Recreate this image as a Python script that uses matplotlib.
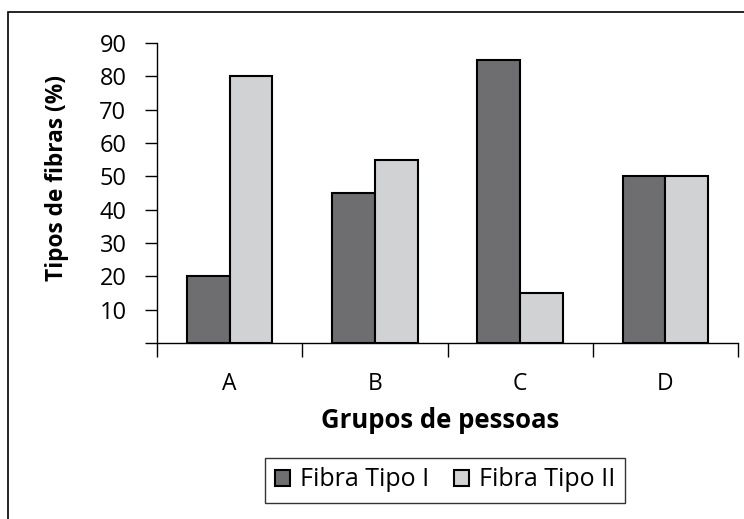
import numpy as np
import matplotlib
matplotlib.use("Agg")
import matplotlib.pyplot as plt
from matplotlib.patches import Rectangle

grupos = ["A", "B", "C", "D"]
tipo_1 = [20, 45, 85, 50]
tipo_2 = [80, 55, 15, 50]
series_names = ["Fibra Tipo I", "Fibra Tipo II"]
yticks = [0, 10, 20, 30, 40, 50, 60, 70, 80, 90]

plt.rcParams['font.family'] = ['Open Sans', 'DejaVu Sans']

W, H = 744, 519
fig = plt.figure(figsize=(W / 100, H / 100), dpi=100)
fig.patch.set_facecolor("white")

# outer frame (right/bottom edges lie outside the picture)
fig.patches.append(Rectangle((8 / W, -0.1), 1.2, 1 - 12 / H + 0.1,
                             transform=fig.transFigure, fill=False,
                             edgecolor="black", linewidth=1.2))

ax = fig.add_axes([157 / W, (H - 343) / H, 581 / W, 300 / H])

x = np.arange(len(grupos))
w = 0.295
ax.bar(x - w / 2, tipo_1, w, color="#6e6e70", edgecolor="black",
       linewidth=1.5, label=series_names[0])
ax.bar(x + w / 2, tipo_2, w, color="#d1d2d4", edgecolor="black",
       linewidth=1.5, label=series_names[1])

ax.set_xlim(-0.5, len(grupos) - 0.5)
ax.set_ylim(0, 90)
ax.set_yticks(yticks)
ax.set_yticklabels([""] + [str(v) for v in yticks[1:]], fontsize=17)
ax.set_xticks(x)
ax.set_xticklabels(grupos, fontsize=16.5)
ax.tick_params(axis="x", length=0, pad=21)
ax.set_xticks(np.arange(len(grupos) + 1) - 0.5, minor=True)
ax.tick_params(axis="x", which="minor", length=10, width=1, direction="out")
ax.tick_params(axis="y", length=9, width=1, direction="out", pad=13)

for s in ["top", "right"]:
    ax.spines[s].set_visible(False)
ax.spines["left"].set_linewidth(1)
ax.spines["bottom"].set_linewidth(1)

fig.text(57 / W, 1 - 178 / H, "Tipos de fibras (%)", fontsize=16.3,
         fontweight="bold", rotation=90, ha="center", va="center")
fig.text(440 / W, 1 - 421 / H, "Grupos de pessoas", fontsize=18.5,
         fontweight="bold", ha="center", va="center")

leg = fig.legend(loc="center", bbox_to_anchor=(445 / W, 1 - 480 / H), ncol=2,
                 fontsize=18, frameon=True, fancybox=False, handlelength=0.6,
                 handleheight=0.6, handletextpad=0.4, columnspacing=1.0,
                 borderpad=0.4)
leg.get_frame().set_edgecolor("black")
leg.get_frame().set_linewidth(1)

fig.savefig("out.png", dpi=100)
